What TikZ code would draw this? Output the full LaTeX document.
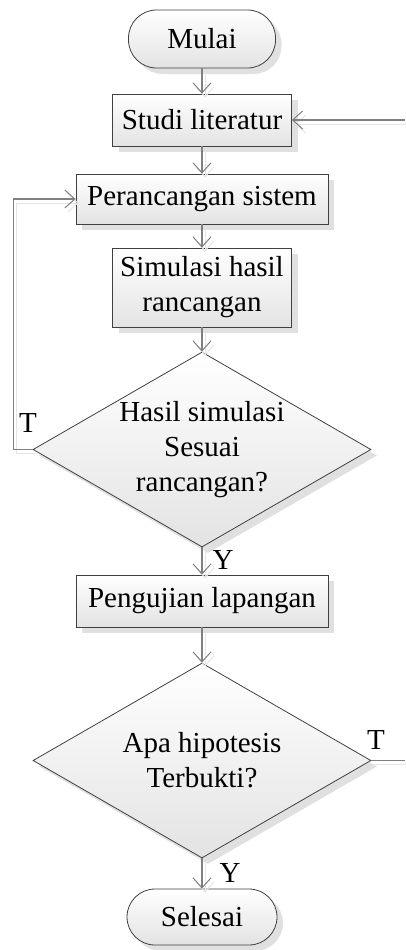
\documentclass[tikz,border=0pt]{standalone}
\usepackage{fontspec}
\setmainfont{Liberation Serif}
\usetikzlibrary{shapes.geometric,shadows,arrows.meta}
\definecolor{linegray}{HTML}{808080}
\definecolor{edgegray}{HTML}{404040}
\begin{document}
\begin{tikzpicture}[x=1pt,y=-1pt,
  font=\fontsize{29}{35}\selectfont,
  box/.style={draw=edgegray, line width=0.8pt, top color=white, bottom color=black!11,
    drop shadow={shadow xshift=6pt, shadow yshift=-6pt, fill=black!12, opacity=1},
    align=center, inner sep=0pt},
  procbox/.style={box, rectangle, minimum height=50pt},
  termbox/.style={box, rectangle, rounded corners=28pt, minimum height=58pt},
  decbox/.style={box, diamond, aspect=1.73, minimum width=338pt, minimum height=195pt},
  flow/.style={draw=linegray, line width=1.3pt,
    -{Straight Barb[length=10pt,width=18pt,line width=1pt]},
    preaction={draw=black!10, transform canvas={shift={(3pt,-4pt)}}}},
  plainline/.style={draw=linegray, line width=1.3pt,
    preaction={draw=black!10, transform canvas={shift={(3pt,-4pt)}}}},
  lbl/.style={inner sep=0pt}]
\useasboundingbox (0,0) rectangle (405,950);

\node[termbox, minimum width=147pt] (mulai) at (202,39) {Mulai};
\node[procbox, minimum width=179pt, minimum height=52pt] (studi) at (202,120) {Studi literatur};
\node[procbox, minimum width=252pt] (pera) at (202,199) {Perancangan sistem};
\node[procbox, minimum width=179pt, minimum height=79pt] (simu) at (202,287.5) {Simulasi hasil\\rancangan};
\node[decbox] (d1) at (202,449.5) {Hasil simulasi\\Sesuai\\rancangan?};
\node[procbox, minimum width=252pt, minimum height=52pt] (uji) at (202,601) {Pengujian lapangan};
\node[decbox] (d2) at (202,760.5) {Apa hipotesis\\Terbukti?};
\node[termbox, minimum width=150pt, minimum height=56pt] (selesai) at (202,917) {Selesai};

\coordinate (rin) at (405,120);
\coordinate (rout) at (405,760.5);

\node[lbl] (t1) at (28,423) {T};
\node[lbl] (y1) at (223,560) {Y};
\node[lbl] (t2) at (376,740) {T};
\node[lbl] (y2) at (230,873) {Y};

\draw[flow] (mulai) -- (studi);
\draw[flow] (studi) -- (pera);
\draw[flow] (pera) -- (simu);
\draw[flow] (simu) -- (d1);
\draw[flow] (d1) -- (uji);
\draw[flow] (uji) -- (d2);
\draw[flow] (d2) -- (selesai);
\draw[flow] (rin) -- (studi.east);
\draw[flow] (d1.west) -- ++(-19,0) |- (pera.west);
\draw[plainline] (d2.east) -- (rout);
\end{tikzpicture}
\end{document}
